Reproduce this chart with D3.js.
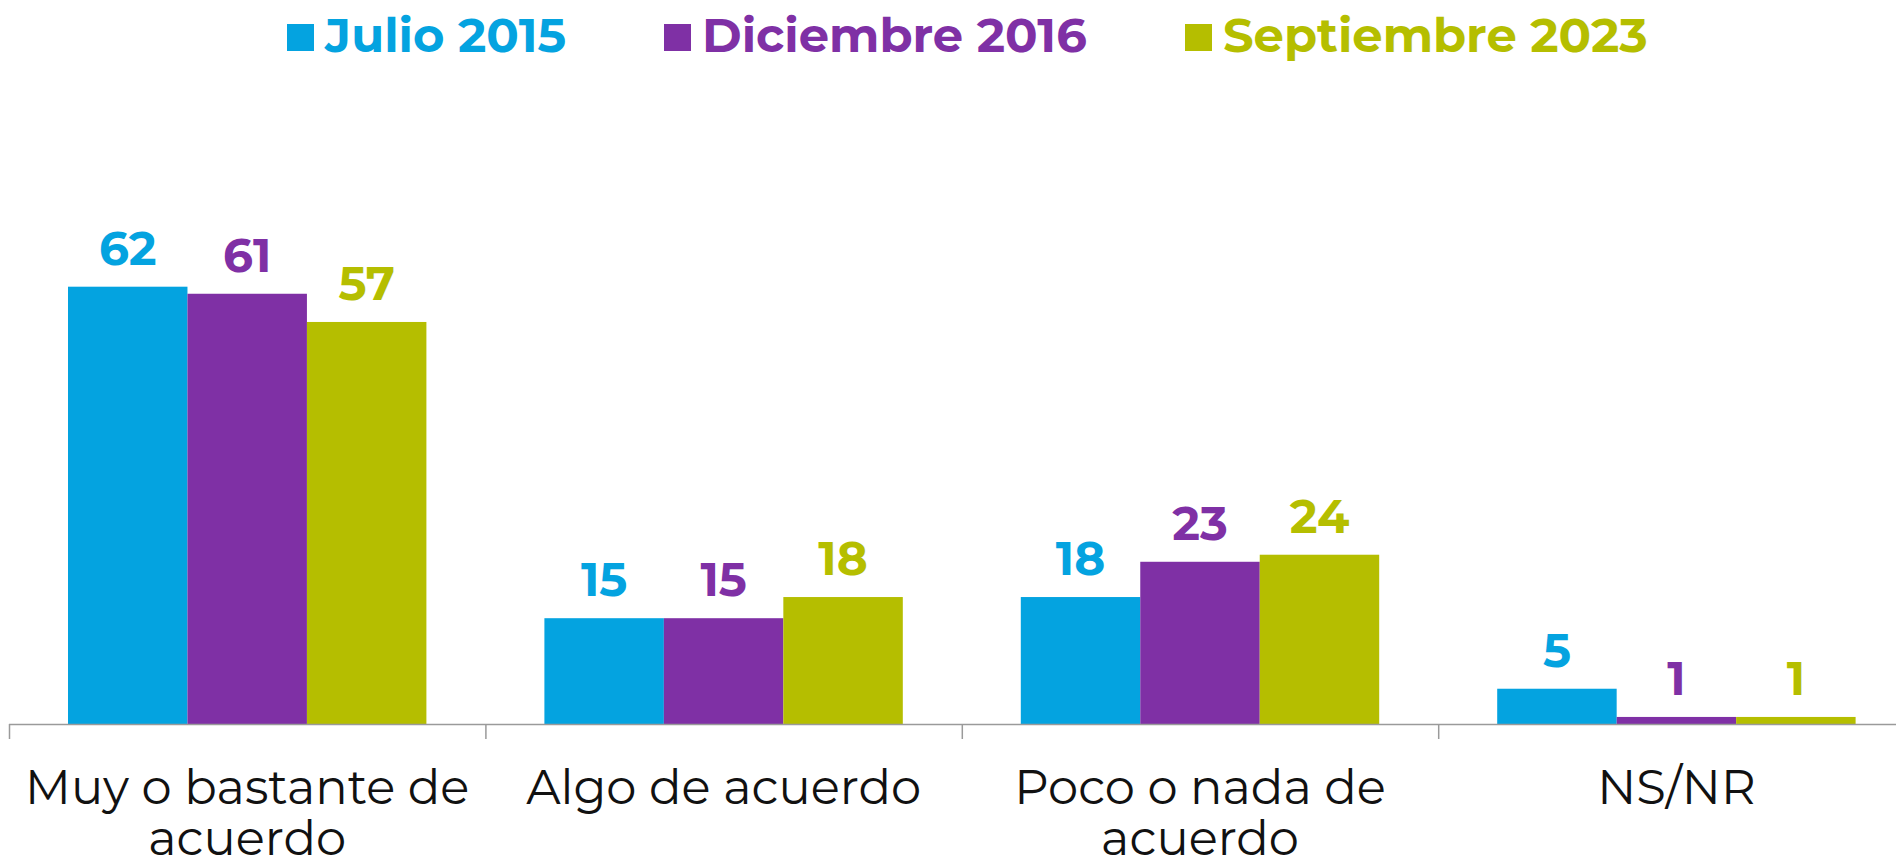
<!DOCTYPE html>
<html>
<head>
<meta charset="utf-8">
<script src="https://cdn.jsdelivr.net/npm/d3@7"></script>
<style>
  body { margin: 0; background: #fff; }
  svg text { font-family: Montserrat, "Noto Sans", sans-serif; }
</style>
</head>
<body>
<div id="chart"></div>
<script>
'use strict';

var categories = ["Muy o bastante de acuerdo", "Algo de acuerdo", "Poco o nada de acuerdo", "NS/NR"];
var seriesNames = ["Julio 2015", "Diciembre 2016", "Septiembre 2023"];
var julio2015 = [62, 15, 18, 5];
var diciembre2016 = [61, 15, 23, 1];
var septiembre2023 = [57, 18, 24, 1];
var seriesColors = ["#04a3e0", "#7f30a5", "#b5be00"];

function drawChart() {
    var svgWidth = 1896, svgHeight = 864;
    var baseY = 724;
    var series = [julio2015, diciembre2016, septiembre2023];

    var svg = d3.select("#chart").append("svg")
        .attr("width", svgWidth)
        .attr("height", svgHeight);

    var bandW = 476.4;
    var x0 = d3.scaleBand()
        .domain(categories)
        .range([9, 9 + bandW * categories.length])
        .padding(0);

    var x1 = d3.scaleBand()
        .domain(seriesNames)
        .range([59, bandW - 59])
        .padding(0);

    var y = d3.scaleLinear()
        .domain([0, 62])
        .range([baseY, baseY - 437.3]);

    // bars + value labels
    var groups = svg.selectAll(".cat")
        .data(categories)
        .enter().append("g")
        .attr("class", "cat")
        .attr("transform", function(d) { return "translate(" + x0(d) + ",0)"; });

    groups.each(function(cat, ci) {
        var g = d3.select(this);
        seriesNames.forEach(function(s, si) {
            var v = series[si][ci];
            g.append("rect")
                .attr("x", x1(s))
                .attr("y", y(v))
                .attr("width", x1.bandwidth())
                .attr("height", baseY - y(v))
                .style("fill", seriesColors[si]);
            g.append("text")
                .attr("x", x1(s) + x1.bandwidth() / 2)
                .attr("y", y(v) - 22)
                .attr("text-anchor", "middle")
                .style("font-size", "47px")
                .style("font-weight", "700")
                .style("fill", seriesColors[si])
                .text(v);
        });
    });

    // axis line with ticks at band edges
    svg.append("line")
        .attr("x1", 9).attr("x2", svgWidth)
        .attr("y1", baseY + 0.5).attr("y2", baseY + 0.5)
        .style("stroke", "#9a9a9a").style("stroke-width", 1.5);

    svg.selectAll(".tick-edge")
        .data(categories)
        .enter().append("line")
        .attr("class", "tick-edge")
        .attr("x1", function(d) { return x0(d) + 0.5; })
        .attr("x2", function(d) { return x0(d) + 0.5; })
        .attr("y1", baseY).attr("y2", baseY + 15)
        .style("stroke", "#9a9a9a").style("stroke-width", 1.5);

    var labels = svg.selectAll(".cat-label")
        .data(categories)
        .enter().append("text")
        .attr("class", "cat-label")
        .attr("transform", function(d) { return "translate(" + (x0(d) + bandW / 2) + ",0)"; })
        .attr("y", 804)
        .attr("text-anchor", "middle")
        .style("font-size", "48px")
        .style("fill", "#111")
        .text(function(d) { return d; });
    labels.call(wrap, 460);

    // legend
    var legendX = [287, 664, 1185];
    var legend = svg.selectAll(".legend")
        .data(seriesNames)
        .enter().append("g")
        .attr("class", "legend")
        .attr("transform", function(d, i) { return "translate(" + legendX[i] + ",0)"; });

    legend.append("rect")
        .attr("x", 0).attr("y", 24)
        .attr("width", 27).attr("height", 27)
        .style("fill", function(d, i) { return seriesColors[i]; });

    legend.append("text")
        .attr("x", 38).attr("y", 52)
        .style("font-size", "48px")
        .style("font-weight", "700")
        .style("fill", function(d, i) { return seriesColors[i]; })
        .text(function(d) { return d; });
}

function wrap(text, width) {
    text.each(function() {
        var text = d3.select(this),
            words = text.text().split(/\s+/).reverse(),
            word,
            line = [],
            lineNumber = 0,
            lineHeight = 51,
            y = text.attr("y"),
            tspan = text.text(null).append("tspan").attr("x", 0).attr("y", y);
        while (word = words.pop()) {
            line.push(word);
            tspan.text(line.join(" "));
            if (tspan.node().getComputedTextLength() > width && line.length > 1) {
                line.pop();
                tspan.text(line.join(" "));
                line = [word];
                tspan = text.append("tspan").attr("x", 0).attr("y", +y + (++lineNumber) * lineHeight).text(word);
            }
        }
    });
}

drawChart();
</script>
</body>
</html>
